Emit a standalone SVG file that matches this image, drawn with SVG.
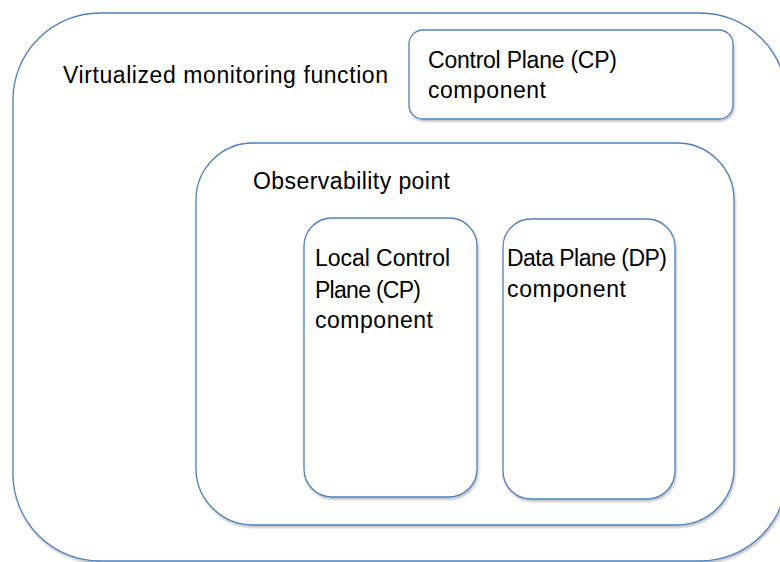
<svg xmlns="http://www.w3.org/2000/svg" width="780" height="562" viewBox="0 0 780 562">
<defs>
<filter id="sh" x="-10%" y="-10%" width="120%" height="120%">
<feDropShadow dx="1" dy="2" stdDeviation="1.2" flood-color="#000" flood-opacity="0.25"/>
</filter>
</defs>
<style>
.box{fill:#fff;stroke:#4f81bd;stroke-width:1.3;filter:url(#sh)}
.t{font-family:"Liberation Sans",Arial,sans-serif;font-size:23px;fill:#000}
</style>
<rect width="780" height="562" fill="#fff"/>
<g id="vmf">
<rect class="box" x="13" y="13" width="774" height="548" rx="87" ry="87"/>
<text class="t" x="63" y="83" textLength="325" lengthAdjust="spacing">Virtualized monitoring function</text>
</g>
<g id="cp">
<rect class="box" x="409" y="30" width="324" height="89" rx="14" ry="14"/>
<text class="t" x="428" y="68" textLength="189" lengthAdjust="spacing">Control Plane (CP)</text>
<text class="t" x="428" y="98" textLength="118" lengthAdjust="spacing">component</text>
</g>
<g id="op">
<rect class="box" x="196" y="143" width="538" height="382" rx="57" ry="57"/>
<text class="t" x="253" y="189" textLength="197" lengthAdjust="spacing">Observability point</text>
</g>
<g id="lcp">
<rect class="box" x="304" y="218" width="173" height="279" rx="28" ry="28"/>
<text class="t" x="315" y="266" textLength="135" lengthAdjust="spacing">Local Control</text>
<text class="t" x="315" y="298" textLength="106" lengthAdjust="spacing">Plane (CP)</text>
<text class="t" x="315" y="328" textLength="118" lengthAdjust="spacing">component</text>
</g>
<g id="dp">
<rect class="box" x="503" y="219" width="172" height="280" rx="28" ry="28"/>
<text class="t" x="507" y="266" textLength="160" lengthAdjust="spacing">Data Plane (DP)</text>
<text class="t" x="507" y="297" textLength="119" lengthAdjust="spacing">component</text>
</g>
<g id="connectors"></g>
</svg>
